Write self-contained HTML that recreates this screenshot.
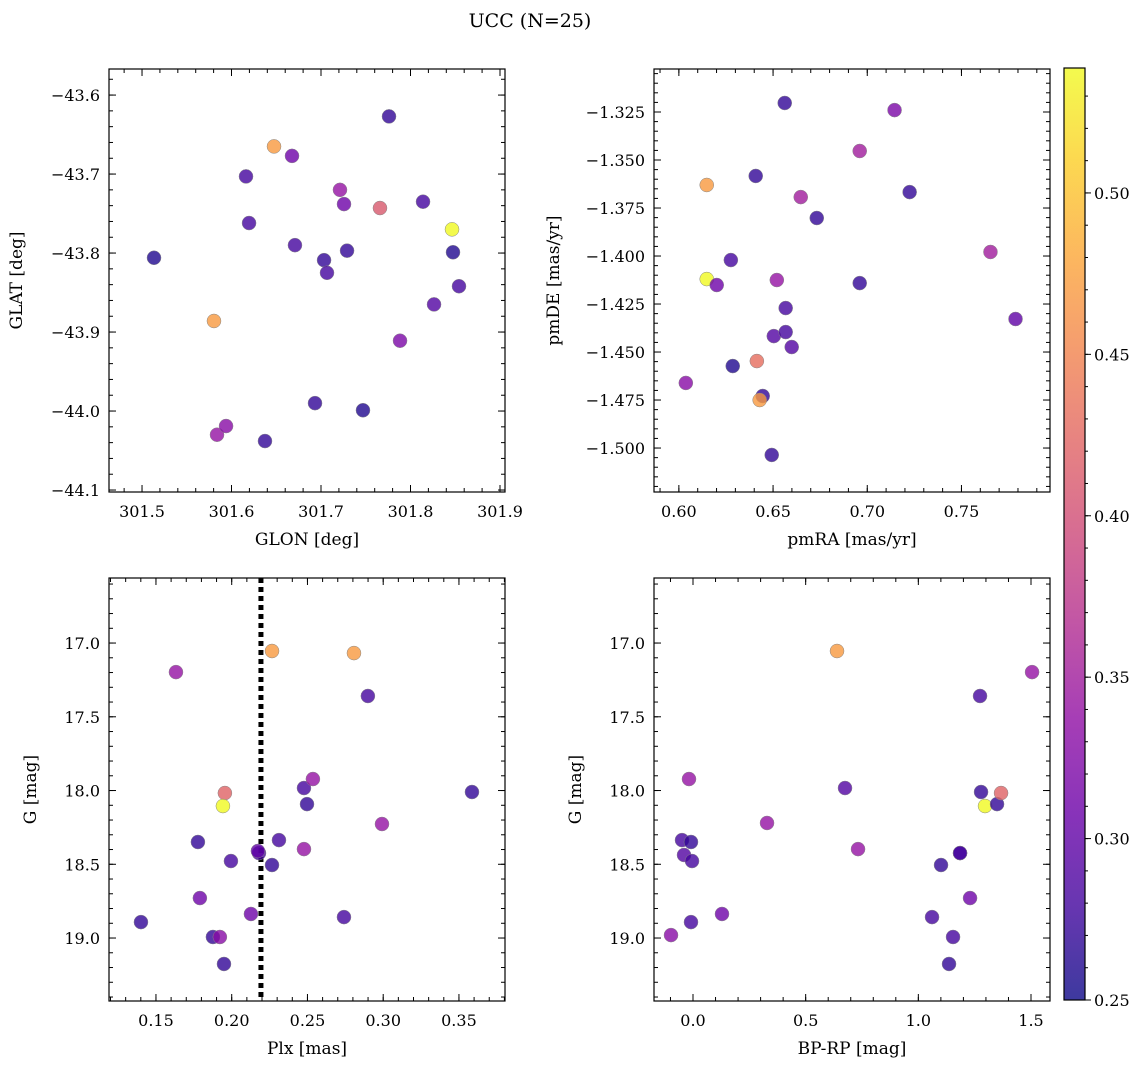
<!DOCTYPE html>
<html><head><meta charset="utf-8"><style>
html,body{margin:0;padding:0;background:#fff;}
svg text{font-family:"DejaVu Serif","Liberation Serif",serif;fill:#000;}
</style></head><body>
<svg id="fig" width="1148" height="1068" viewBox="0 0 1148 1068" xmlns="http://www.w3.org/2000/svg">
<text x="530" y="27" font-size="19" text-anchor="middle">UCC (N=25)</text>
</svg>
<script>
// ---- Data ----
const glon = [301.5134,301.5804,301.5838,301.5939,301.6162,301.6196,301.6374,301.6475,301.6676,301.6709,301.6933,301.7034,301.7067,301.7212,301.7257,301.7291,301.7469,301.7659,301.7760,301.7883,301.8140,301.8263,301.8464,301.8475,301.8542];
const glat = [-43.806,-43.886,-44.030,-44.019,-43.703,-43.762,-44.038,-43.665,-43.677,-43.790,-43.990,-43.809,-43.825,-43.720,-43.738,-43.797,-43.999,-43.743,-43.627,-43.911,-43.735,-43.865,-43.770,-43.799,-43.842];
const cPos = [0.26,0.47,0.34,0.33,0.28,0.28,0.27,0.47,0.31,0.28,0.27,0.27,0.28,0.34,0.31,0.27,0.26,0.41,0.27,0.32,0.28,0.29,0.54,0.26,0.28];

const pmra = [0.6037,0.6148,0.6148,0.6201,0.6276,0.6286,0.6408,0.6414,0.6445,0.6429,0.6493,0.6504,0.6520,0.6567,0.6567,0.6599,0.6562,0.6647,0.6732,0.6960,0.6960,0.7145,0.7225,0.7654,0.7787];
const pmde = [-1.4661,-1.3630,-1.4120,-1.4151,-1.4021,-1.4573,-1.3583,-1.4547,-1.4729,-1.4750,-1.5036,-1.4417,-1.4125,-1.4271,-1.4396,-1.4474,-1.3203,-1.3693,-1.3802,-1.3453,-1.4141,-1.3240,-1.3667,-1.3979,-1.4328];
const cPm = [0.33,0.47,0.54,0.31,0.28,0.26,0.27,0.43,0.27,0.47,0.27,0.29,0.34,0.28,0.28,0.29,0.27,0.35,0.27,0.35,0.27,0.32,0.27,0.35,0.30];

const plx = [0.1401,0.1632,0.1777,0.1790,0.1876,0.1922,0.1949,0.1955,0.1942,0.1995,0.2127,0.2180,0.2173,0.2266,0.2266,0.2312,0.2477,0.2497,0.2477,0.2536,0.2741,0.2807,0.2899,0.2992,0.3586];
const gPlx = [18.892,17.197,18.349,18.729,18.993,18.993,19.176,18.017,18.105,18.478,18.837,18.424,18.410,18.505,17.054,18.336,17.983,18.092,18.397,17.922,18.858,17.068,17.359,18.227,18.010];
const cPlx = [0.27,0.34,0.27,0.31,0.27,0.33,0.27,0.42,0.54,0.28,0.31,0.28,0.30,0.27,0.47,0.28,0.28,0.27,0.34,0.34,0.28,0.47,0.28,0.34,0.27];
const plxLine = [0.2193];

const bprp = [-0.0976,-0.0488,-0.0399,-0.0178,-0.0089,-0.0089,-0.0044,0.1287,0.3285,0.6391,0.6746,0.7324,1.0608,1.1007,1.1540,1.1362,1.1851,1.2295,1.2738,1.2783,1.2960,1.3493,1.3671,1.5047,1.1851];
const gCmd = [18.980,18.336,18.437,17.922,18.349,18.892,18.478,18.837,18.220,17.054,17.983,18.397,18.858,18.505,18.993,19.176,18.424,18.729,17.359,18.010,18.105,18.092,18.017,17.197,18.424];
const cCmd = [0.33,0.28,0.29,0.34,0.27,0.28,0.28,0.31,0.34,0.47,0.29,0.34,0.28,0.27,0.28,0.27,0.28,0.31,0.28,0.27,0.54,0.27,0.42,0.34,0.28];

const cbTicks = [0.25,0.30,0.35,0.40,0.45,0.50];
const cMin = 0.25, cMax = 0.5387;

// ---- helpers ----
const NS = "http://www.w3.org/2000/svg";
const svg = document.getElementById('fig');
function mk(tag, attrs, parent){ const e=document.createElementNS(NS,tag); for(const k in attrs) e.setAttribute(k,attrs[k]); (parent||svg).appendChild(e); return e; }
const stops = ["#0d0887","#41049d","#6a00a8","#8f0da4","#b12a90","#cc4778","#e16462","#f2844b","#fca636","#fcce25","#f0f921"];
function hex(h){return [parseInt(h.substr(1,2),16),parseInt(h.substr(3,2),16),parseInt(h.substr(5,2),16)];}
function plasma(t){ t=Math.max(0,Math.min(1,t)); const f=t*10, i=Math.min(9,Math.floor(f)), u=f-i; const a=hex(stops[i]), b=hex(stops[i+1]); return `rgb(${a.map((v,k)=>Math.round(v+(b[k]-v)*u)).join(',')})`; }
function cmap(c){ return plasma((c-cMin)/(cMax-cMin)); }
function fmt(v,d){ const s=Math.abs(v).toFixed(d); return (v<-1e-9?'\u2212':'')+s; }

function panel(o){
  const g = mk('g',{}); 
  
  
  const sx = v => o.L + (v-o.x0)/(o.x1-o.x0)*(o.R-o.L);
  const sy = o.inv ? (v => o.T + (v-o.y0)/(o.y1-o.y0)*(o.B-o.T)) : (v => o.T + (o.y1-v)/(o.y1-o.y0)*(o.B-o.T));
  const tg = mk('g',{},g);
  function ticksX(step,len,lab){
    const s=Math.ceil(o.x0/step-1e-6), e=Math.floor(o.x1/step+1e-6);
    for(let i=s;i<=e;i++){ const v=i*step, x=sx(v);
      mk('line',{x1:x,x2:x,y1:o.B,y2:o.B-len,stroke:'#000','stroke-width':1},tg);
      mk('line',{x1:x,x2:x,y1:o.T,y2:o.T+len,stroke:'#000','stroke-width':1},tg);
      if(lab){ const t=mk('text',{x:x,y:o.B+25,'font-size':16,'text-anchor':'middle'},tg); t.textContent=fmt(v,o.xd);
          }
    }
  }
  function ticksY(step,len,lab){
    const s=Math.ceil(o.y0/step-1e-6), e=Math.floor(o.y1/step+1e-6);
    for(let i=s;i<=e;i++){ const v=i*step, y=sy(v);
      mk('line',{x1:o.L,x2:o.L+len,y1:y,y2:y,stroke:'#000','stroke-width':1},tg);
      mk('line',{x1:o.R,x2:o.R-len,y1:y,y2:y,stroke:'#000','stroke-width':1},tg);
      if(lab){ const t=mk('text',{x:o.L-9,y:y+6,'font-size':16,'text-anchor':'end'},tg); t.textContent=fmt(v,o.yd);
          }
    }
  }
  ticksX(o.xmaj,7,true); ticksX(o.xmin,4,false);
  ticksY(o.ymaj,7,true); ticksY(o.ymin,4,false);
  if(o.vline){ const x=sx(o.vline[0]); const l=mk('line',{x1:x,x2:x,y1:o.T,y2:o.B,stroke:'#000','stroke-width':5,'stroke-dasharray':'5 4'},g);
      }
  const pg = mk('g',{},g);
  for(let i=0;i<o.xs.length;i++){
    const c=mk('circle',{cx:sx(o.xs[i]),cy:sy(o.ys[i]),r:7,fill:cmap(o.cs[i]),'fill-opacity':0.8,stroke:'#888','stroke-width':0.5},pg);
    
    
  }
  const fr=mk('rect',{x:o.L,y:o.T,width:o.R-o.L,height:o.B-o.T,fill:'none',stroke:'#000','stroke-width':1.2},g);
   
  const xl=mk('text',{x:(o.L+o.R)/2,y:o.B+53,'font-size':17,'text-anchor':'middle'},g); xl.textContent=o.xlabel;
   
  const cy=(o.T+o.B)/2, lx=o.L-o.ylx;
  const yl=mk('text',{x:lx,y:cy,'font-size':17,'text-anchor':'middle',transform:`rotate(-90 ${lx} ${cy})`},g); yl.textContent=o.ylabel;
   
}

panel({name:'glon-glat-panel',L:109,R:505,T:69,B:492,x0:301.4631,x1:301.9056,y0:-44.1025,y1:-43.567,xmaj:0.1,xmin:0.02,ymaj:0.1,ymin:0.02,xd:1,yd:1,xs:glon,ys:glat,cs:cPos,xlabel:'GLON [deg]',ylabel:'GLAT [deg]',ylx:87});
panel({name:'proper-motion-panel',L:654,R:1050,T:69,B:492,x0:0.5868,x1:0.7970,y0:-1.5229,y1:-1.3026,xmaj:0.05,xmin:0.01,ymaj:0.025,ymin:0.005,xd:2,yd:3,xs:pmra,ys:pmde,cs:cPm,xlabel:'pmRA [mas/yr]',ylabel:'pmDE [mas/yr]',ylx:95});
panel({name:'plx-g-panel',inv:true,L:109,R:505,T:578,B:1001,x0:0.1190,x1:0.3804,y0:16.559,y1:19.427,xmaj:0.05,xmin:0.01,ymaj:0.5,ymin:0.1,xd:2,yd:1,xs:plx,ys:gPlx,cs:cPlx,xlabel:'Plx [mas]',ylabel:'G [mag]',ylx:73,vline:plxLine});
panel({name:'cmd-panel',inv:true,L:654,R:1050,T:578,B:1001,x0:-0.1731,x1:1.5843,y0:16.559,y1:19.427,xmaj:0.5,xmin:0.1,ymaj:0.5,ymin:0.1,xd:1,yd:1,xs:bprp,ys:gCmd,cs:cCmd,xlabel:'BP-RP [mag]',ylabel:'G [mag]',ylx:73});

(function(){
  const L=1064,R=1085,T=68,B=1000;
  const g=mk('g',{});
  
  
  const defs=mk('defs',{},g);
  const lg=mk('linearGradient',{id:'cbg',x1:0,y1:1,x2:0,y2:0},defs);
  for(let i=0;i<=20;i++) mk('stop',{offset:i/20,'stop-color':plasma(i/20)},lg);
  mk('rect',{x:L,y:T,width:R-L,height:B-T,fill:'url(#cbg)','fill-opacity':0.8},g);
  const sy=v=>B-(v-cMin)/(cMax-cMin)*(B-T);
  for(let v=0.25;v<=cMax+1e-9;v+=0.01){ const y=sy(v); mk('line',{x1:R,x2:R+3,y1:y,y2:y,stroke:'#000','stroke-width':1},g); }
  cbTicks.forEach(v=>{ const y=sy(v);
    mk('line',{x1:R,x2:R+6,y1:y,y2:y,stroke:'#000','stroke-width':1},g);
    const t=mk('text',{x:R+9,y:y+6,'font-size':16},g); t.textContent=v.toFixed(2);
     
  });
  mk('rect',{x:L,y:T,width:R-L,height:B-T,fill:'none',stroke:'#000','stroke-width':1.2},g);
})();
</script>
</body></html>
